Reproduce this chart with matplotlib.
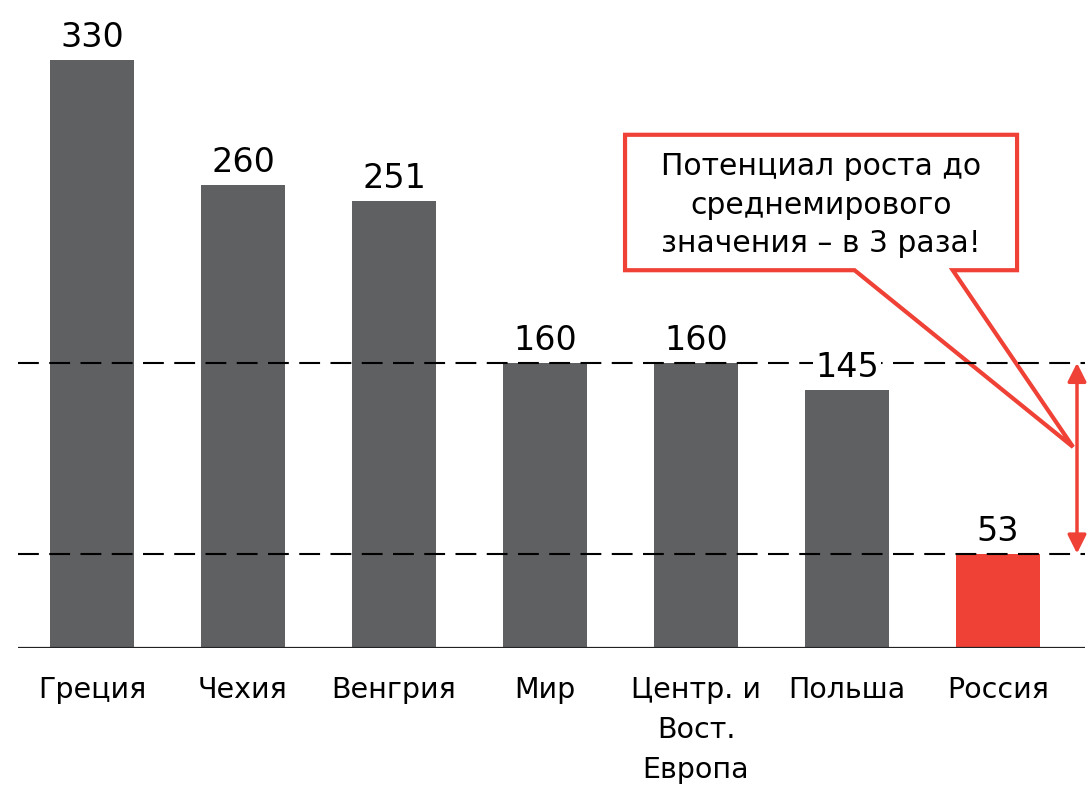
import numpy as np
import matplotlib
matplotlib.use("Agg")
from matplotlib import pyplot as plt
from matplotlib.patches import Polygon

countries = ["Греция", "Чехия", "Венгрия", "Мир", "Центр. и\nВост.\nЕвропа", "Польша", "Россия"]
values = [330, 260, 251, 160, 160, 145, 53]
world_level = 160
russia_level = 53
callout_text = "Потенциал роста до\nсреднемирового\nзначения – в 3 раза!"

gray = "#5f6062"
red = "#ef4136"

plt.rcParams["font.family"] = ["DejaVu Sans"]

fig = plt.figure(figsize=(10.91, 7.86), dpi=100)
ax = fig.add_axes([18 / 1091, 138 / 786, (1085 - 18) / 1091, 648 / 786])

x = np.arange(len(countries))
colors = [gray] * (len(values) - 1) + [red]
ax.bar(x, values, width=0.55, color=colors, zorder=2)

ax.set_xlim(-0.49, 6.576)
ax.set_ylim(0, 648 / 1.782)

# reference levels
ax.axhline(world_level, color="black", lw=1.5, dashes=(10, 5), zorder=3)
ax.axhline(russia_level, color="black", lw=1.5, dashes=(10, 5), zorder=3)
ax.axhline(0, color="#222222", lw=1.6, zorder=4)

for xi, v in zip(x, values):
    ax.annotate(str(v), (xi, v), xytext=(0, 9), textcoords="offset points",
                ha="center", va="baseline", fontsize=24, zorder=5,
                bbox=dict(boxstyle="square,pad=0.05", fc="white", ec="none"))

ax.set_xticks(x)
ax.set_xticklabels(countries, fontsize=20.5, linespacing=1.55)
ax.tick_params(axis="x", length=0, pad=20)
ax.set_yticks([])
for s in ax.spines.values():
    s.set_visible(False)

# callout box with pointer tail
bx0, bx1, by0, by1 = 3.53, 6.126, 212, 288
tail = [(5.05, by0), (6.497, 112.8), (5.70, by0)]
pts = [(bx0, by0), tail[0], tail[1], tail[2], (bx1, by0), (bx1, by1), (bx0, by1)]
ax.add_patch(Polygon(pts, closed=True, fc="white", ec=red, lw=3,
                     joinstyle="miter", zorder=1.5, clip_on=False))
ax.text((bx0 + bx1) / 2, (by0 + by1) / 2 - 1.5, callout_text, ha="center", va="center",
        fontsize=21.5, linespacing=1.4, zorder=6)

# growth arrow
ax.annotate("", xy=(6.523, world_level), xytext=(6.523, russia_level),
            arrowprops=dict(arrowstyle="<|-|>", color=red, lw=2.5,
                            mutation_scale=28, shrinkA=0, shrinkB=0),
            zorder=6, annotation_clip=False)

fig.savefig("out.png", dpi=100)
